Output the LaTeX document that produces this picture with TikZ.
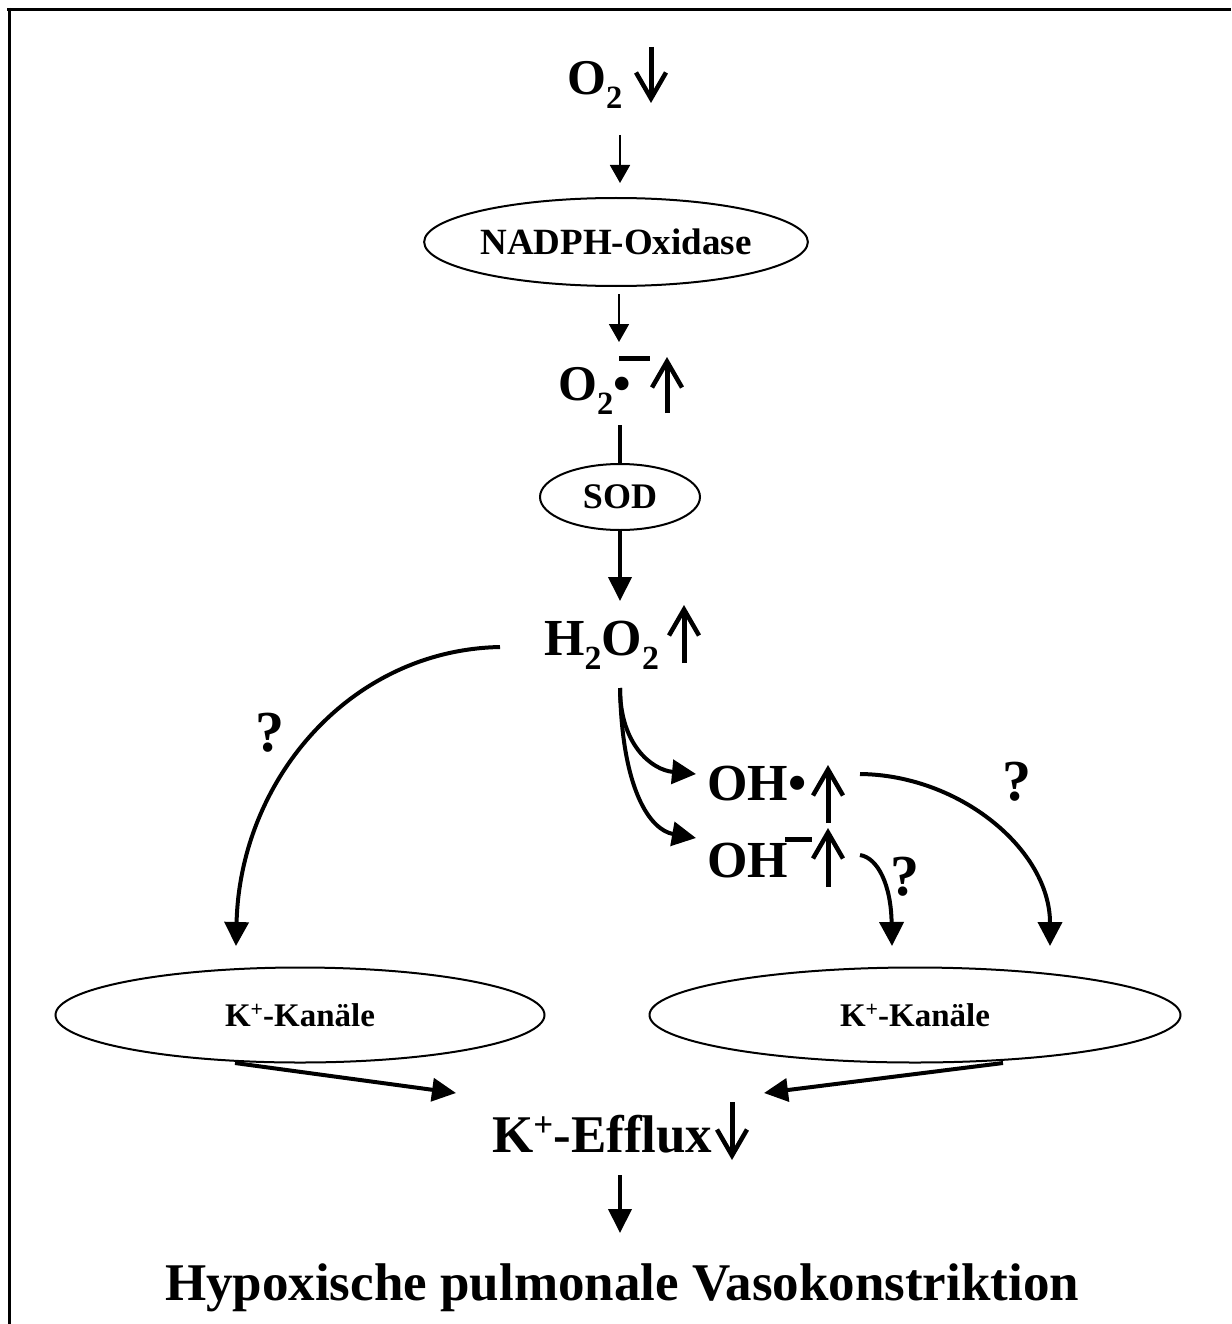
\documentclass[tikz,border=0pt]{standalone}
\usepackage{fontspec}
\setmainfont{Liberation Serif}
\usepackage{graphicx}
\usetikzlibrary{shapes.geometric,arrows.meta}
\newcommand{\subtwo}{\raisebox{-0.28em}{\scalebox{0.65}{2}}}
\newcommand{\supplus}{\raisebox{0.3em}{\scalebox{0.66}{+}}}
\begin{document}
\begin{tikzpicture}[x=1pt,y=-1pt,
  lbl/.style={font=\fontsize{52}{62}\selectfont\bfseries, inner sep=0, anchor=base west},
  lbls/.style={font=\fontsize{50}{60}\selectfont\bfseries, inner sep=0, anchor=base west},
  qm/.style={font=\fontsize{58}{68}\selectfont\bfseries, inner sep=0, anchor=base},
  ell/.style={ellipse, draw, line width=2pt, inner sep=0, font=\fontsize{33}{40}\selectfont\bfseries},
  tarr/.style={line width=1.8pt, -{Triangle[length=18pt,width=20pt]}},
  barr/.style={line width=4pt, -{Triangle[length=24pt,width=23pt]}},
  carr/.style={line width=4pt, -{Triangle[length=24pt,width=24pt]}},
  ud/.style={line width=5pt, -{Straight Barb[length=26pt,width=30pt,line width=4.5pt]}},
  bar/.style={line width=5pt}]
\useasboundingbox (0,0) rectangle (1231,1324);
% frame
\draw[line width=3.6pt] (7,9.5) -- (1231,9.5);
\draw[line width=3.6pt] (9.5,8) -- (9.5,1324);

% nodes
\node[lbls] (o2top) at (567,95) {O\subtwo};
\node[ell, minimum width=378pt, minimum height=88pt, font=\fontsize{37}{44}\selectfont\bfseries] (nadph) at (616,242) {NADPH-Oxidase};
\node[lbls] (o2rad) at (558,400) {O\subtwo•};
\node[ell, minimum width=160pt, minimum height=66pt, font=\fontsize{36}{42}\selectfont\bfseries] (sod) at (620,497) {SOD};
\node[lbl] (h2o2) at (544,655) {H\subtwo O\subtwo};
\node[lbl] (ohrad) at (707,800) {OH•};
\node[lbl] (ohm) at (707,877) {OH};
\node[ell, minimum width=489pt, minimum height=95pt] (kleft) at (300,1015) {K\supplus-Kanäle};
\node[ell, minimum width=531pt, minimum height=95pt] (kright) at (915,1015) {K\supplus-Kanäle};
\node[lbl, font=\fontsize{53}{64}\selectfont\bfseries] (efflux) at (492,1152) {K\supplus-Efflux};
\node[font=\fontsize{53}{64}\selectfont\bfseries, inner sep=0, anchor=base] (hpv) at (622,1300) {Hypoxische pulmonale Vasokonstriktion};
\node[qm] (q1) at (270,751) {?};
\node[qm] (q2) at (1017,800) {?};
\node[qm] (q3) at (905,895) {?};

% minus bars
\draw[bar] (619,358.5) -- (650,358.5);
\draw[bar] (785,839.5) -- (812,839.5);

% label arrows
\coordinate (u1a) at (651,47); \coordinate (u1b) at (651,103);
\draw[ud] (u1a) -- (u1b);
\coordinate (u2a) at (667,413); \coordinate (u2b) at (667,357);
\draw[ud] (u2a) -- (u2b);
\coordinate (u3a) at (684,663); \coordinate (u3b) at (684,605);
\draw[ud] (u3a) -- (u3b);
\coordinate (u4a) at (828,823); \coordinate (u4b) at (828,765);
\draw[ud] (u4a) -- (u4b);
\coordinate (u5a) at (828,887); \coordinate (u5b) at (828,828);
\draw[ud] (u5a) -- (u5b);
\coordinate (u6a) at (732,1102); \coordinate (u6b) at (732,1160);
\draw[ud] (u6a) -- (u6b);

% connectors
\coordinate (c1a) at (620,135); \coordinate (c1b) at (620,183);
\draw[tarr] (c1a) -- (c1b);
\coordinate (c2a) at (619,294); \coordinate (c2b) at (619,342);
\draw[tarr] (c2a) -- (c2b);
\coordinate (c3a) at (620,425); \coordinate (c3b) at (620,464);
\draw[line width=3.5pt] (c3a) -- (c3b);
\coordinate (c4a) at (620,531); \coordinate (c4b) at (620,601);
\draw[barr] (c4a) -- (c4b);

\coordinate (h2l) at (500,647);
\coordinate (klt) at (236,946);
\draw[carr] (h2l) .. controls (350,650) and (240,780) .. (klt);

\coordinate (h2b) at (620,688);
\coordinate (ohrl) at (696,774);
\coordinate (ohml) at (696,838);
\draw[carr] (h2b) .. controls (620,745) and (652,770) .. (ohrl);
\draw[carr] (h2b) .. controls (622,790) and (650,830) .. (ohml);

\coordinate (ohrr) at (860,774);
\coordinate (krt) at (1050,946);
\draw[carr] (ohrr) .. controls (960,775) and (1050,850) .. (krt);

\coordinate (ohmr) at (860,855);
\coordinate (krt2) at (892,946);
\draw[carr] (ohmr) .. controls (878,858) and (891,885) .. (krt2);

\coordinate (kl1) at (235,1063); \coordinate (ef1) at (456,1093);
\draw[barr] (kl1) -- (ef1);
\coordinate (kr1) at (1003,1063); \coordinate (ef2) at (764,1093);
\draw[barr] (kr1) -- (ef2);
\coordinate (ef3) at (620,1175); \coordinate (hp1) at (620,1233);
\draw[barr] (ef3) -- (hp1);
\end{tikzpicture}
\end{document}
